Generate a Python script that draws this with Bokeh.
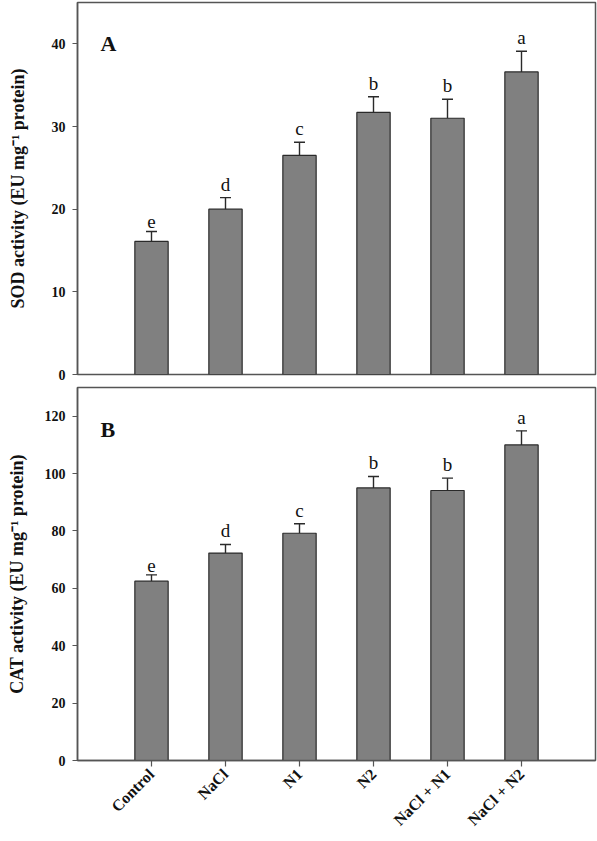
import math
from bokeh.plotting import figure
from bokeh.layouts import column
from bokeh.models import ColumnDataSource, Range1d, FixedTicker, Label, Whisker, TeeHead
from bokeh.core.properties import value
from bokeh.embed import file_html
from bokeh.resources import INLINE

categories = ["Control", "NaCl", "N1", "N2", "NaCl + N1", "NaCl + N2"]
sod_mean = [16.1, 20.0, 26.5, 31.7, 31.0, 36.6]
sod_err = [1.2, 1.4, 1.6, 1.9, 2.3, 2.5]
sod_letters = ["e", "d", "c", "b", "b", "a"]
cat_mean = [62.5, 72.3, 79.2, 95.0, 94.1, 110.0]
cat_err = [2.2, 3.0, 3.3, 4.0, 4.3, 4.9]
cat_letters = ["e", "d", "c", "b", "b", "a"]
sod_ticks = [0, 10, 20, 30, 40]
cat_ticks = [0, 20, 40, 60, 80, 100, 120]

SERIF = "Liberation Serif"
BAR = "#808080"
EDGE = "#2a2a2a"
FRAME = "#555555"


def panel(means, errs, letters, ymax, ticks, ylabel, tag, tag_y, show_x, top, fh, bottom, lab_standoff):
    xs = list(range(1, len(categories) + 1))
    src = ColumnDataSource(dict(
        x=xs, top=means,
        upper=[m + e for m, e in zip(means, errs)],
        lab=letters,
    ))
    p = figure(output_backend="svg", toolbar_location=None,
               frame_width=518, frame_height=fh,
               x_range=Range1d(0, 7), y_range=Range1d(0, ymax),
               min_border_left=77, min_border_right=2,
               min_border_top=top, min_border_bottom=bottom)
    p.vbar(x="x", top="top", width=0.45, source=src, fill_color=BAR,
           line_color=EDGE, line_width=1.2)
    p.add_layout(Whisker(source=src, base="x", upper="upper", lower="top",
                         line_color=EDGE, line_width=1.4,
                         upper_head=TeeHead(size=11, line_color=EDGE, line_width=1.4),
                         lower_head=None))
    p.text(x="x", y="upper", text="lab", source=src, text_align="center",
           text_baseline="bottom", y_offset=-3, text_font=value(SERIF),
           text_font_size="19px", text_color="#111111")
    p.add_layout(Label(x=0.31, y=tag_y, text=tag, text_font=SERIF,
                       text_font_size="22px", text_font_style="bold",
                       text_baseline="middle", text_color="#111111"))
    p.xgrid.visible = False
    p.ygrid.visible = False
    p.outline_line_color = FRAME
    p.outline_line_width = 1.5
    p.outline_line_alpha = 1.0
    ya = p.yaxis[0]
    ya.ticker = FixedTicker(ticks=ticks)
    ya.minor_tick_line_color = None
    ya.major_tick_out = 5
    ya.major_tick_in = 0
    ya.axis_line_color = FRAME
    ya.axis_line_width = 1.5
    ya.major_tick_line_color = FRAME
    ya.major_tick_line_width = 1.2
    ya.major_label_text_font = SERIF
    ya.major_label_text_font_style = "bold"
    ya.major_label_text_font_size = "14px"
    ya.major_label_text_color = "#111111"
    ya.major_label_standoff = 7
    ya.axis_label = ylabel
    ya.axis_label_text_font = SERIF
    ya.axis_label_text_font_style = "bold"
    ya.axis_label_text_font_size = "18px"
    ya.axis_label_text_color = "#111111"
    ya.axis_label_standoff = lab_standoff
    xa = p.xaxis[0]
    if show_x:
        xa.ticker = FixedTicker(ticks=xs)
        xa.major_label_overrides = {i: c for i, c in zip(xs, categories)}
        xa.minor_tick_line_color = None
        xa.major_tick_out = 6
        xa.major_tick_in = 0
        xa.axis_line_color = FRAME
        xa.axis_line_width = 1.5
        xa.major_tick_line_color = FRAME
        xa.major_tick_line_width = 1.2
        xa.major_label_orientation = math.pi / 4
        xa.major_label_text_font = SERIF
        xa.major_label_text_font_style = "bold"
        xa.major_label_text_font_size = "16px"
        xa.major_label_text_color = "#111111"
        xa.major_label_standoff = 5
    else:
        xa.visible = False
    return p


pa = panel(sod_mean, sod_err, sod_letters, 45, sod_ticks,
           "SOD activity (EU mg\u207b\u00b9 protein)", "A", 40, False, 2, 372, 8, 21)
pb = panel(cat_mean, cat_err, cat_letters, 130, cat_ticks,
           "CAT activity (EU mg\u207b\u00b9 protein)", "B", 115.5, True, 5, 373, 4, 15)

layout = column(pa, pb, spacing=0)
open("out.html", "w").write(file_html(layout, INLINE))
